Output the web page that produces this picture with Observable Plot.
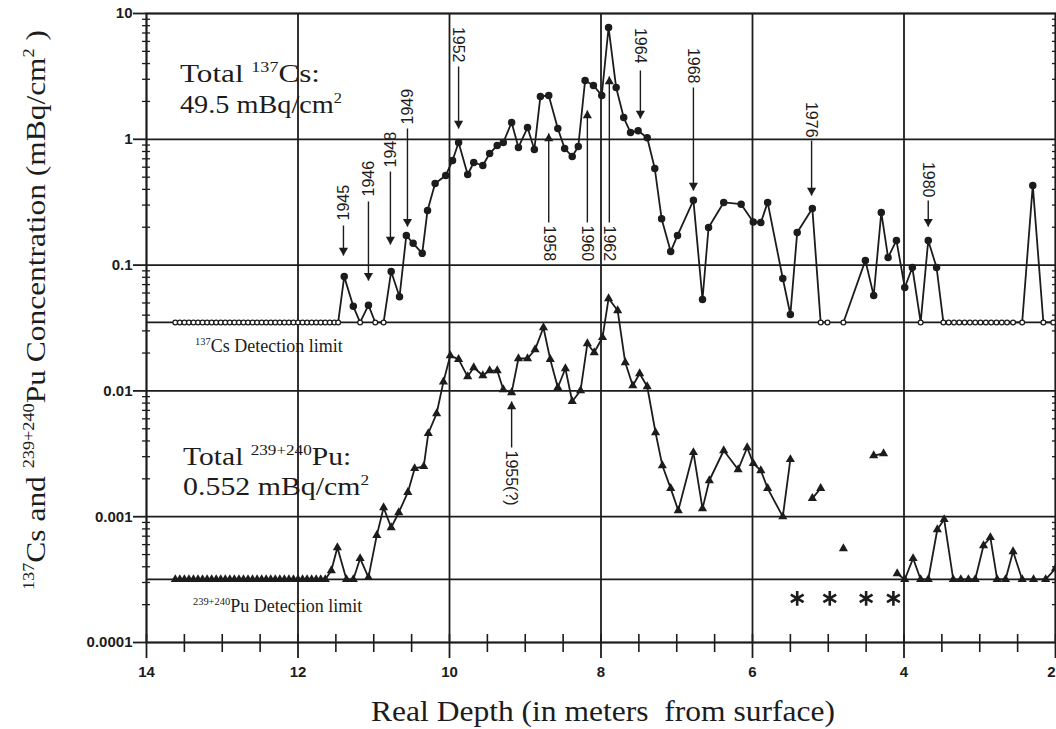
<!DOCTYPE html>
<html><head><meta charset="utf-8">
<script src="https://cdn.jsdelivr.net/npm/d3@7"></script>
<script src="https://cdn.jsdelivr.net/npm/@observablehq/plot@0.6"></script>
<style>
body{margin:0;background:#fff}
#chart{width:1056px;height:729px;overflow:hidden}
</style>
</head><body><div id="chart"></div>
<script>
// ---------- axes ----------
const decades = [10, 1, 0.1, 0.01, 0.001, 0.0001];
const yTickLabels = ["10", "1", "0.1", "0.01", "0.001", "0.0001"];
const xMajor = [14, 12, 10, 8, 6, 4, 2];
const xTickLabels = ["14", "12", "10", "8", "6", "4", "2"];
const xMinor = [13.5, 13, 12.5, 11.5, 11, 10.5, 9.5, 9, 8.5, 7.5, 7, 6.5, 5.5, 5, 4.5, 3.5, 3, 2.5];
const gridDepths = [12, 10, 8, 6, 4];
const csLimit = 0.035;
const puLimit = 0.000317;

// ---------- 137Cs series (null = gap) ----------
const csDepth = [13.62,13.56,13.50,13.44,13.38,13.32,13.26,13.20,13.14,13.08,13.02,12.96,12.90,12.84,12.78,12.72,12.66,12.60,12.54,12.48,12.42,12.36,12.30,12.24,12.18,12.12,12.06,12.00,11.94,11.88,11.82,11.76,11.70,11.64,11.58,11.52,11.47,
 11.39,11.27,11.18,11.07,10.98,10.87,10.77,10.66,10.57,10.48,10.36,10.29,10.19,10.05,9.96,9.88,9.76,9.68,9.56,9.47,9.37,9.29,9.18,9.09,8.97,8.88,8.80,8.69,8.57,8.48,8.38,8.30,8.21,8.10,7.99,7.90,7.80,7.70,7.61,7.51,7.39,7.29,7.20,7.08,6.99,6.78,6.66,6.58,6.38,6.15,5.99,5.89,5.80,5.60,5.50,5.41,5.21,5.10,5.01,
 4.90,4.80,4.51,4.40,4.30,4.21,4.10,3.99,3.89,3.78,3.68,3.57,3.48,3.41,3.34,3.27,3.20,3.13,3.06,2.99,2.92,2.85,2.78,2.71,2.64,2.56,2.44,2.30,2.16,2.03];
const csValue = [0.035,0.035,0.035,0.035,0.035,0.035,0.035,0.035,0.035,0.035,0.035,0.035,0.035,0.035,0.035,0.035,0.035,0.035,0.035,0.035,0.035,0.035,0.035,0.035,0.035,0.035,0.035,0.035,0.035,0.035,0.035,0.035,0.035,0.035,0.035,0.035,0.035,
 0.081,0.047,0.035,0.048,0.035,0.035,0.089,0.056,0.172,0.149,0.124,0.272,0.446,0.516,0.678,0.943,0.525,0.654,0.619,0.771,0.893,0.943,1.36,0.861,1.24,0.83,2.19,2.23,1.22,0.845,0.73,0.877,2.93,2.68,2.23,7.74,2.58,1.49,1.13,1.17,1.03,0.586,0.234,0.128,0.172,0.327,0.0533,0.199,0.315,0.305,0.22,0.218,0.315,0.0782,0.0405,0.1815,0.282,0.035,0.035,
 null,0.035,0.109,0.0573,0.262,0.115,0.157,0.0664,0.0957,0.035,0.157,0.0957,0.035,0.035,0.035,0.035,0.035,0.035,0.035,0.035,0.035,0.035,0.035,0.035,0.035,0.035,0.035,0.43,0.035,0.035];

// ---------- 239+240Pu series (null = gap) ----------
const puDepth = [13.62,13.56,13.50,13.44,13.38,13.32,13.26,13.20,13.14,13.08,13.02,12.96,12.90,12.84,12.78,12.72,12.66,12.60,12.54,12.48,12.42,12.36,12.30,12.24,12.18,12.12,12.06,12.00,11.94,11.88,11.82,11.76,11.70,11.64,
 11.56,11.48,11.36,11.27,11.18,11.07,10.96,10.87,10.77,10.67,10.55,10.46,10.34,10.28,10.17,10.08,9.99,9.88,9.76,9.68,9.56,9.47,9.37,9.29,9.18,9.09,8.97,8.87,8.76,8.67,8.57,8.47,8.38,8.27,8.18,8.09,7.98,7.90,7.78,7.68,7.58,7.49,7.39,7.28,7.19,7.08,6.98,6.78,6.66,6.57,6.38,6.19,6.07,5.99,5.89,5.80,5.60,5.50,
 5.35,5.21,5.10,4.95,4.80,4.60,4.40,4.27,4.18,
 4.09,3.99,3.88,3.78,3.68,3.56,3.47,3.35,3.25,3.15,3.06,2.95,2.86,2.77,2.66,2.56,2.44,2.29,2.13,2.00];
const puValue = [0.000317,0.000317,0.000317,0.000317,0.000317,0.000317,0.000317,0.000317,0.000317,0.000317,0.000317,0.000317,0.000317,0.000317,0.000317,0.000317,0.000317,0.000317,0.000317,0.000317,0.000317,0.000317,0.000317,0.000317,0.000317,0.000317,0.000317,0.000317,0.000317,0.000317,0.000317,0.000317,0.000317,0.000317,
 0.000373,0.000569,0.000317,0.000317,0.000466,0.000329,0.00071,0.00118,0.00082,0.00108,0.00156,0.00242,0.00251,0.00459,0.00661,0.0118,0.0191,0.0178,0.0130,0.01535,0.01325,0.01452,0.01452,0.01026,0.0097,0.0181,0.0181,0.0213,0.0319,0.0178,0.01064,0.01507,0.00824,0.01007,0.0238,0.0202,0.0266,0.0542,0.0435,0.0168,0.0110,0.01375,0.01084,0.00467,0.00255,0.00168,0.00112,0.00324,0.00116,0.00194,0.00336,0.00237,0.00355,0.00265,0.00233,0.00168,0.001,0.00285,
 null,0.0014,0.00168,null,0.000558,null,0.00306,0.00318,null,
 0.000353,0.000317,0.000466,0.000317,0.000317,0.000791,0.000951,0.000317,0.000317,0.000317,0.000317,0.00059,0.000684,0.000317,0.000317,0.000528,0.000317,0.000317,0.000317,0.000387];

// ---------- asterisks (Pu not detected) ----------
const starDepth = [5.41, 4.98, 4.50, 4.14];
const starValue = [0.000224, 0.000224, 0.000224, 0.000224];

// ---------- dated horizons (arrows) ----------
const annLabel  = ["1945","1946","1948","1949","1952","1964","1968","1976","1980","1958","1960","1962","1955(?)"];
const annDepth  = [11.40, 11.07, 10.78, 10.555, 9.88, 7.48, 6.78, 5.22, 3.68, 8.69, 8.18, 7.89, 9.18];
const annTextAt = [0.2262, 0.3510, 0.5968, 1.311, 4.078, 4.004, 2.777, 1.033, 0.3446, 0.2064, 0.2064, 0.2064, 0.003358];
const annTail   = [0.2064, 0.3204, 0.5546, 1.219, 3.790, 3.524, 2.581, 0.9784, 0.3263, 0.2182, 0.2182, 0.2182, 0.003549];
const annTip    = [0.1192, 0.0754, 0.1458, 0.2026, 1.219, 1.463, 0.3917, 0.3575, 0.2026, 1.112, 1.694, 3.157, 0.008237];
const leftRotated = ["1945","1946","1948","1949"];
const labelsBelow = ["1958","1960","1962","1955(?)"];

// ---------- text blocks ([text, isSuperscript]) ----------
const csTotal1 = [["Total ", 0], ["137", 1], ["Cs:", 0]];
const csTotal2 = [["49.5 mBq/cm", 0], ["2", 1]];
const puTotal1 = [["Total ", 0], ["239+240", 1], ["Pu:", 0]];
const puTotal2 = [["0.552 mBq/cm", 0], ["2", 1]];
const csLimitText = [["137", 1], ["Cs Detection limit", 0]];
const puLimitText = [["239+240", 1], ["Pu Detection limit", 0]];
const yTitle = [["137", 1], ["Cs and ", 0], ["239+240", 1], ["Pu Concentration (mBq/cm", 0], ["2", 1], [" )", 0]];
const xTitle = "Real Depth (in meters  from surface)";
// anchors of text blocks (depth, value)
const textDepth = [13.551, 13.551, 13.51, 13.51, 13.353, 13.38];
const textValue = [2.83, 1.6, 0.00255, 0.001476, 0.0202, 0.000173];

// ---------- build ----------
const ink = "#1c1c1c";
const cs = csDepth.map((d, i) => ({depth: d, value: csValue[i]}));
const pu = puDepth.map((d, i) => ({depth: d, value: puValue[i]}));
const stars = starDepth.map((d, i) => ({depth: d, value: starValue[i]}));
const ann = annLabel.map((l, i) => ({label: l, depth: annDepth[i], textAt: annTextAt[i], tail: annTail[i], tip: annTip[i]}));
const annDown = ann.filter(d => !labelsBelow.includes(d.label));
const annUp = ann.filter(d => labelsBelow.includes(d.label));
const minorY = [];
for (const dec of [0.0001, 0.001, 0.01, 0.1, 1]) for (let k = 2; k <= 9; k++) minorY.push(+(dec * k).toPrecision(3));
const allHalf = xMajor.concat(xMinor);
const lastMajor = xMajor[xMajor.length - 1];
const sans = "Liberation Sans, Arial, sans-serif";
const serif = "Liberation Serif, Times New Roman, serif";
const xLabelFmt = d => xTickLabels[xMajor.indexOf(d)];

const plot = Plot.plot({
  width: 1056, height: 729,
  marginLeft: 146, marginRight: 1, marginTop: 13, marginBottom: 87,
  style: {background: "#fff", fontFamily: sans, color: ink, overflow: "visible"},
  x: {domain: [14, 2], label: null},
  y: {type: "log", domain: [0.0001, 10], label: null},
  marks: [
    Plot.ruleY(decades.slice(1, 5), {stroke: ink, strokeWidth: 1.8}),
    Plot.ruleY([csLimit, puLimit], {stroke: ink, strokeWidth: 1.8}),
    Plot.ruleX(gridDepths, {stroke: ink, strokeWidth: 1.8}),
    Plot.frame({stroke: ink, strokeWidth: 2.2}),
    // x axis ticks
    Plot.axisX({ticks: xMajor.slice(0, -1), tickSize: 16, tickPadding: 8, fontSize: 15, fontWeight: "bold",
      tickFormat: xLabelFmt, label: null, strokeWidth: 1.8}),
    Plot.axisX({ticks: [lastMajor], tickSize: 16, tickPadding: 8, fontSize: 15, fontWeight: "bold", textAnchor: "end",
      tickFormat: xLabelFmt, label: null, strokeWidth: 1.8}),
    Plot.axisX({ticks: xMinor, tickSize: 10, tickFormat: () => "", label: null, strokeWidth: 1.6}),
    Plot.axisX({ticks: allHalf, tickSize: 8, dy: -8, tickFormat: () => "", label: null, strokeWidth: 1.6}),
    // y axis ticks
    Plot.axisY({ticks: decades, tickSize: 13, tickPadding: 1, fontSize: 15, fontWeight: "bold",
      tickFormat: d => yTickLabels[decades.indexOf(d)], label: null, strokeWidth: 1.8}),
    Plot.axisY({ticks: minorY, tickSize: 4, tickFormat: () => "", label: null, strokeWidth: 1.3}),
    Plot.axisY({ticks: minorY, tickSize: 4, dx: 4, tickFormat: () => "", label: null, strokeWidth: 1.3}),
    Plot.axisY({anchor: "right", ticks: minorY, tickSize: 4, dx: -4, tickFormat: () => "", label: null, strokeWidth: 1.3}),
    // series
    Plot.line(cs, {x: "depth", y: "value", stroke: ink, strokeWidth: 1.8}),
    Plot.dot(cs.filter(d => d.value != null && d.value > csLimit), {x: "depth", y: "value", r: 3, fill: ink, stroke: ink}),
    Plot.dot(cs.filter(d => d.value === csLimit), {x: "depth", y: "value", r: 2.4, fill: "#fff", stroke: ink, strokeWidth: 1.3}),
    Plot.line(pu, {x: "depth", y: "value", stroke: ink, strokeWidth: 1.8}),
    Plot.dot(pu.filter(d => d.value != null), {x: "depth", y: "value", symbol: "triangle", r: 3.4, fill: ink}),
    Plot.dot(stars, {x: "depth", y: "value", symbol: "asterisk", r: 7, stroke: ink, strokeWidth: 2.6}),
    // dated horizons: shaft + filled head
    Plot.link(ann, {x1: "depth", x2: "depth", y1: "tail", y2: "tip", stroke: ink, strokeWidth: 1.4}),
    Plot.dot(annDown, {x: "depth", y: "tip", symbol: "triangle", rotate: 180, r: 3.4, dy: -5, fill: ink}),
    Plot.dot(annUp, {x: "depth", y: "tip", symbol: "triangle", r: 3.4, dy: 5, fill: ink}),
    Plot.text(ann.filter(d => leftRotated.includes(d.label)), {x: "depth", y: "textAt", text: "label", rotate: -90, textAnchor: "start", fontSize: 16, fill: ink}),
    Plot.text(annDown.filter(d => !leftRotated.includes(d.label)), {x: "depth", y: "textAt", text: "label", rotate: 90, textAnchor: "end", fontSize: 16, fill: ink}),
    Plot.text(annUp, {x: "depth", y: "textAt", text: "label", rotate: 90, textAnchor: "start", fontSize: 16, fill: ink})
  ]
});

document.getElementById("chart").appendChild(plot);

// ---------- rich text with superscripts ----------
const svg = d3.select(plot);
const sx = plot.scale("x"), sy = plot.scale("y");
function rich(parts, x, y, size, opts = {}) {
  const t = svg.append("text").attr("x", x).attr("y", y)
    .attr("font-family", serif).attr("font-size", size).attr("fill", ink)
    .attr("text-anchor", opts.anchor || "start");
  if (opts.rotate) t.attr("transform", `rotate(${opts.rotate},${x},${y})`);
  if (opts.length) t.attr("textLength", opts.length).attr("lengthAdjust", "spacingAndGlyphs");
  let up = false;
  for (const p of parts) {
    const ts = t.append("tspan").text(p[0]);
    if (p[1]) { ts.attr("font-size", size * 0.58); if (!up) ts.attr("dy", -size * 0.4); up = true; }
    else { if (up) ts.attr("dy", size * 0.4); up = false; }
  }
  return t;
}
const blocks = [[csTotal1, 26, 140], [csTotal2, 26, 162], [puTotal1, 26, 168], [puTotal2, 26, 186], [csLimitText, 18, 0], [puLimitText, 18, 0]];
blocks.forEach(([parts, size, len], i) => rich(parts, sx.apply(textDepth[i]), sy.apply(textValue[i]), size, len ? {length: len} : {}));
rich(yTitle, 45, 310, 28, {anchor: "middle", rotate: -90, length: 560});
rich([[xTitle, 0]], 603, 721, 29, {anchor: "middle", length: 464});
</script>
</body></html>
